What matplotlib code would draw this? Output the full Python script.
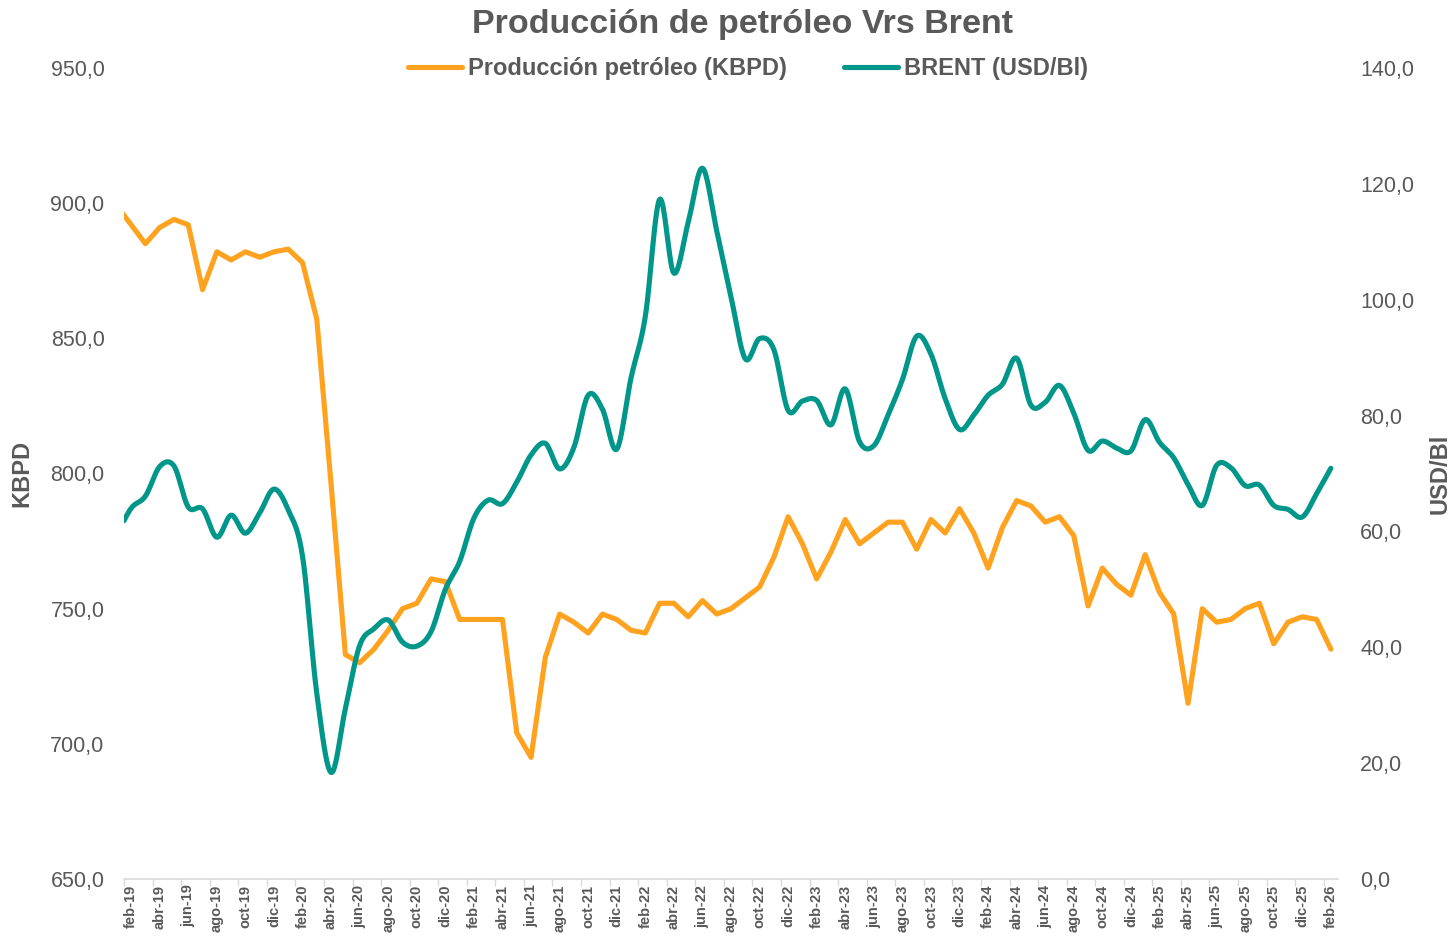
import numpy as np
import matplotlib
matplotlib.use('Agg')
import matplotlib.pyplot as plt
from matplotlib.ticker import FuncFormatter, FixedLocator

# monthly data, ene-19 .. feb-26 (ene-19 sits half outside the axis, as in the source)
meses = ['ene', 'feb', 'mar', 'abr', 'may', 'jun', 'jul', 'ago', 'sep', 'oct', 'nov', 'dic']
periodos = [f'{meses[m]}-{y:02d}' for y in range(19, 27) for m in range(12)][:86]

produccion = [
    899, 892, 885, 891, 894, 892, 868, 882, 879, 882, 880, 882,   # 2019
    883, 878, 857, 796, 733, 730, 735, 742, 750, 752, 761, 760,   # 2020
    746, 746, 746, 746, 704, 695, 732, 748, 745, 741, 748, 746,   # 2021
    742, 741, 752, 752, 747, 753, 748, 750, 754, 758, 769, 784,   # 2022
    774, 761, 771, 783, 774, 778, 782, 782, 772, 783, 778, 787,   # 2023
    778, 765, 780, 790, 788, 782, 784, 777, 751, 765, 759, 755,   # 2024
    770, 756, 748, 715, 750, 745, 746, 750, 752, 737, 745, 747,   # 2025
    746, 735,                                                     # 2026
]

brent = [
    59.4, 64.0, 66.1, 71.2, 71.3, 64.2, 63.9, 59.0, 62.8, 59.7, 63.2, 67.3,
    63.7, 55.7, 32.0, 18.4, 29.4, 40.3, 43.2, 44.7, 40.9, 40.2, 42.7, 50.0,
    54.8, 62.3, 65.4, 64.8, 68.5, 73.2, 75.2, 70.8, 74.5, 83.5, 81.1, 74.2,
    86.5, 97.1, 117.3, 104.6, 113.3, 122.7, 111.9, 100.5, 89.8, 93.3, 91.4, 80.9,
    82.5, 82.6, 78.4, 84.6, 75.5, 74.8, 80.1, 86.2, 93.7, 90.6, 82.9, 77.6,
    80.1, 83.5, 85.4, 89.9, 81.8, 82.3, 85.2, 80.4, 74.0, 75.6, 74.4, 73.9,
    79.3, 75.4, 72.7, 68.1, 64.5, 71.4, 71.0, 67.9, 68.0, 64.5, 63.8, 62.5,
    66.5, 70.9,
]

GRIS = '#595959'
NARANJA = '#FFA21F'
VERDE = '#00968A'

plt.rcParams['font.family'] = ['Liberation Sans', 'DejaVu Sans']


def suavizar(x, y, n=20):
    # Excel-style smoothed line: cubic bezier through points, catmull-rom tangents
    x = np.asarray(x, float)
    y = np.asarray(y, float)
    px = np.concatenate([[x[0]], x, [x[-1]]])
    py = np.concatenate([[y[0]], y, [y[-1]]])
    t = np.linspace(0, 1, n, endpoint=False)[:, None]
    xs, ys = [], []
    for i in range(1, len(px) - 2):
        p0 = np.array([px[i], py[i]])
        p3 = np.array([px[i + 1], py[i + 1]])
        c1 = p0 + (np.array([px[i + 1], py[i + 1]]) - np.array([px[i - 1], py[i - 1]])) / 6
        c2 = p3 - (np.array([px[i + 2], py[i + 2]]) - np.array([px[i], py[i]])) / 6
        b = ((1 - t) ** 3) * p0 + 3 * ((1 - t) ** 2) * t * c1 + 3 * (1 - t) * t ** 2 * c2 + t ** 3 * p3
        xs.append(b[:, 0])
        ys.append(b[:, 1])
    xs.append([x[-1]])
    ys.append([y[-1]])
    return np.concatenate(xs), np.concatenate(ys)


x = np.arange(len(periodos))

fig = plt.figure(figsize=(14.55, 9.38), dpi=100)
ax = fig.add_axes([124 / 1455, 1 - 879 / 938, (1338 - 124) / 1455, (879 - 68) / 938])
ax2 = ax.twinx()

l1, = ax.plot(x, produccion, color=NARANJA, lw=3.7, solid_joinstyle='round',
              solid_capstyle='round', label='Producción petróleo (KBPD)')
sx, sy = suavizar(x, brent)
l2, = ax2.plot(sx, sy, color=VERDE, lw=3.7, solid_capstyle='round',
               label='BRENT (USD/Bl)')

ax.set_xlim(0.5, 85.5)
ax.set_ylim(650, 950)
ax2.set_ylim(0, 140)
ax.set_yticks(np.arange(650, 951, 50))
ax2.set_yticks(np.arange(0, 141, 20))
fmt = FuncFormatter(lambda v, p: f'{v:.1f}'.replace('.', ','))
ax.yaxis.set_major_formatter(fmt)
ax2.yaxis.set_major_formatter(fmt)

# labels every two months, tick marks at the category boundaries
ax.xaxis.set_major_locator(FixedLocator(x[1::2]))
ax.set_xticklabels(periodos[1::2], rotation=90, fontsize=10.5, fontweight='bold', color=GRIS)
ax.xaxis.set_minor_locator(FixedLocator(np.arange(0.5, 86, 2)))
ax.tick_params(axis='x', which='major', length=0, pad=4)
ax.tick_params(axis='x', which='minor', length=5, color='#D9D9D9', width=1)

ax.tick_params(axis='y', length=0, labelsize=15.5, labelcolor=GRIS, pad=14)
ax2.tick_params(axis='y', length=0, labelsize=15.5, labelcolor=GRIS, pad=16)

for a in (ax, ax2):
    for s in ('top', 'left', 'right'):
        a.spines[s].set_visible(False)
    a.spines['bottom'].set_color('#D9D9D9')
    a.spines['bottom'].set_linewidth(1.2)
ax2.spines['bottom'].set_visible(False)

ax.set_ylabel('KBPD', fontsize=17, fontweight='bold', color=GRIS, labelpad=12)
ax2.set_ylabel('USD/Bl', fontsize=17, fontweight='bold', color=GRIS, labelpad=10)

fig.text(0.51, 1 - 25 / 938, 'Producción de petróleo Vrs Brent', ha='center', va='center',
         fontsize=24.5, fontweight='bold', color=GRIS)

leg = fig.legend(handles=[l1, l2], loc='center', bbox_to_anchor=(0.514, 1 - 69 / 938),
                 ncol=2, frameon=False, handlelength=2.3, handletextpad=0.25,
                 columnspacing=2.4, prop={'size': 17, 'weight': 'bold'})
for t in leg.get_texts():
    t.set_color(GRIS)

fig.savefig('out.png', dpi=100)
